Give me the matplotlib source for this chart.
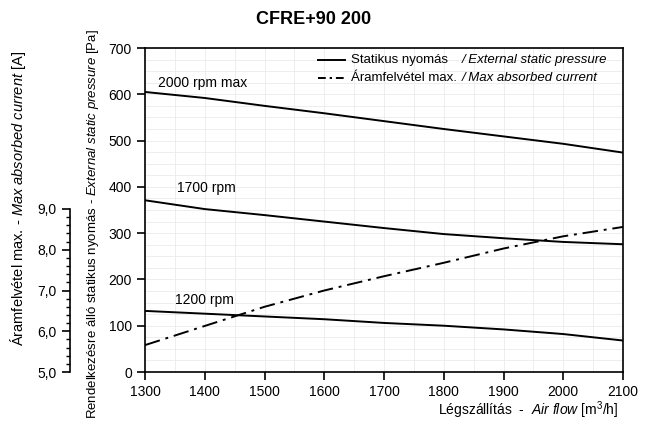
import matplotlib
matplotlib.use('Agg')
import matplotlib.pyplot as plt
from matplotlib.ticker import MultipleLocator, FixedLocator

plt.rcParams['font.family'] = ['Liberation Sans', 'DejaVu Sans']
plt.rcParams['mathtext.fontset'] = 'custom'
plt.rcParams['mathtext.rm'] = 'Liberation Sans'
plt.rcParams['mathtext.it'] = 'Liberation Sans:italic'

# adatok a diagramról leolvasva
legaram = [1300, 1400, 1500, 1600, 1700, 1800, 1900, 2000, 2100]
p_2000 = [605, 592, 575, 559, 542, 525, 509, 493, 474]
p_1700 = [371, 352, 339, 325, 311, 298, 289, 281, 276]
p_1200 = [132, 126, 120, 114, 106, 100, 92, 82, 68]
aram = [5.66, 6.13, 6.60, 7.00, 7.35, 7.68, 8.03, 8.33, 8.56]

gorbe_cimkek = ['2000 rpm max', '1700 rpm', '1200 rpm']
cimke_x = [1322, 1354, 1350]
cimke_y = [625, 397, 155]

x_ticks = [1300, 1400, 1500, 1600, 1700, 1800, 1900, 2000, 2100]
y_ticks = [0, 100, 200, 300, 400, 500, 600, 700]
a_ticks = [5.0, 6.0, 7.0, 8.0, 9.0]
a_labels = ['5,0', '6,0', '7,0', '8,0', '9,0']

W, H = 655, 430
fig = plt.figure(figsize=(W / 100, H / 100), dpi=100)

# fő tengely (nyomás)
left, right, top, bottom = 145, 623, 48, 372
ax = fig.add_axes([left / W, 1 - bottom / H, (right - left) / W, (bottom - top) / H])
ax.set_xlim(1300, 2100)
ax.set_ylim(0, 700)
ax.set_xticks(x_ticks)
ax.set_yticks(y_ticks)
ax.xaxis.set_minor_locator(MultipleLocator(50))
ax.yaxis.set_minor_locator(MultipleLocator(25))
ax.grid(which='both', color='#ebebeb', linewidth=0.6)
ax.set_axisbelow(True)
ax.tick_params(which='major', direction='out', length=6, width=1.2, labelsize=10)
ax.tick_params(which='minor', length=0)
for s in ax.spines.values():
    s.set_linewidth(1.2)

for p in [p_2000, p_1700, p_1200]:
    ax.plot(legaram, p, color='black', lw=1.4)
for t, cx, cy in zip(gorbe_cimkek, cimke_x, cimke_y):
    ax.text(cx, cy, t, fontsize=10, va='center', ha='left')

# áramfelvétel tengely a bal szélen
ax2 = fig.add_axes([70 / W, 1 - bottom / H, 0.0001, (bottom - top) / H])
ax2.set_ylim(5.0, 5.0 + (bottom - top) / 40.75)
ax2.patch.set_visible(False)
for k in ['top', 'right', 'bottom']:
    ax2.spines[k].set_visible(False)
ax2.spines['left'].set_bounds(5.0, 9.0)
ax2.spines['left'].set_linewidth(1.2)
ax2.set_xticks([])
ax2.yaxis.set_major_locator(FixedLocator(a_ticks))
ax2.set_yticklabels(a_labels)
ax2.yaxis.set_minor_locator(FixedLocator([5 + 0.2 * i for i in range(21)]))
ax2.tick_params(which='major', direction='out', length=6, width=1.2, labelsize=10)
ax2.tick_params(which='minor', direction='out', length=3, width=1.0)

# áram görbe a fő tengelyen, átváltva
a_scale = 40.75 / ((bottom - top) / 700)
ax.plot(legaram, [(a - 5.0) * a_scale for a in aram], color='black', lw=1.4,
        linestyle=(0, (8, 3, 1.5, 3)))

# jelmagyarázat
ax.plot([0.362, 0.418], [0.963, 0.963], transform=ax.transAxes, color='black', lw=1.4)
ax.plot([0.362, 0.418], [0.906, 0.906], transform=ax.transAxes, color='black', lw=1.4,
        linestyle=(0, (4, 2, 1.2, 2)))
ax.text(0.43, 0.963, 'Statikus nyomás', transform=ax.transAxes, fontsize=9.5, va='center')
ax.text(0.43, 0.906, 'Áramfelvétel max.', transform=ax.transAxes, fontsize=9.5, va='center')
ax.text(0.662, 0.963, '/ External static pressure', transform=ax.transAxes, fontsize=9.5,
        va='center', style='italic')
ax.text(0.662, 0.906, '/ Max absorbed current', transform=ax.transAxes, fontsize=9.5,
        va='center', style='italic')

# feliratok
fig.text(314 / W, 1 - 19 / H, 'CFRE+90 200', fontsize=13, fontweight='bold',
         ha='center', va='center')
fig.text(618 / W, 1 - 410 / H, r'Légszállítás  -  $\mathit{Air\ flow}$ [m$^3$/h]',
         fontsize=10, ha='right', va='center')
fig.text(93 / W, 1 - 224 / H,
         r'Rendelkezésre álló statikus nyomás - $\mathit{External\ static\ pressure}$ [Pa]',
         fontsize=9.5, rotation=90, ha='center', va='center')
fig.text(18 / W, 1 - 198 / H, r'Áramfelvétel max. - $\mathit{Max\ absorbed\ current}$ [A]',
         fontsize=10.5, rotation=90, ha='center', va='center')

fig.savefig('out.png', dpi=100)
